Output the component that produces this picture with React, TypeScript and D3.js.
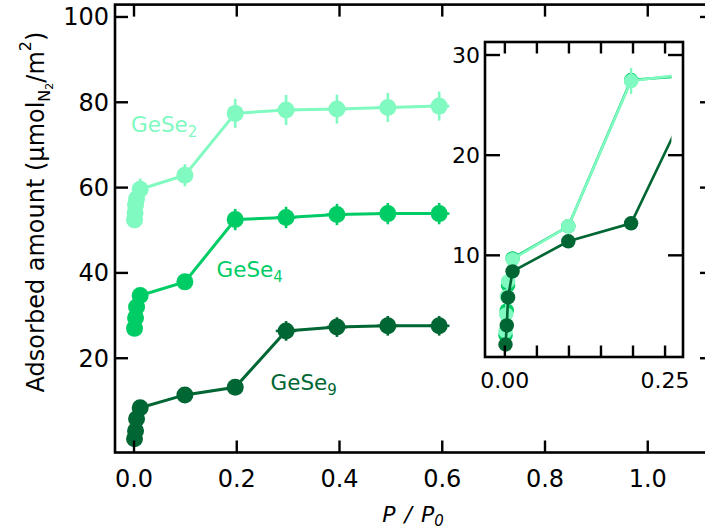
import React from 'react';
import * as d3 from 'd3';

// ---- data (raw adsorbed amounts; main panel adds a vertical offset per series) ----
const seriesNames = ['GeSe', 'GeSe', 'GeSe'];
const seriesSubs = ['2', '4', '9'];
const colors = ['#80FAC0', '#00CC66', '#006633'];
const offsets = [50, 25, 0];

const xGeSe2 = [0.001, 0.002, 0.003, 0.005, 0.012, 0.099, 0.197, 0.296, 0.395, 0.494, 0.594];
const yGeSe2 = [2.4, 4.1, 5.9, 7.4, 9.6, 12.9, 27.4, 28.2, 28.4, 28.8, 29.1];
const eGeSe2 = [0.8, 0.8, 0.8, 0.8, 2.5, 2.6, 3.4, 3.5, 3.4, 3.4, 3.4];

const xGeSe4 = [0.001, 0.003, 0.005, 0.012, 0.099, 0.197, 0.296, 0.395, 0.494, 0.594];
const yGeSe4 = [2.0, 4.5, 7.0, 9.7, 12.9, 27.5, 28.0, 28.7, 28.9, 28.9];
const eGeSe4 = [0.5, 0.5, 0.5, 0.8, 1.5, 2.5, 2.5, 2.5, 2.5, 2.5];

const xGeSe9 = [0.001, 0.003, 0.005, 0.012, 0.099, 0.197, 0.296, 0.395, 0.494, 0.594];
const yGeSe9 = [1.1, 3.0, 5.8, 8.4, 11.4, 13.2, 26.4, 27.3, 27.6, 27.6];
const eGeSe9 = [0.5, 0.5, 0.5, 0.5, 1.0, 1.2, 2.3, 2.3, 2.3, 2.3];

const insetErrGeSe2 = [0.3, 0.3, 0.3, 0.3, 0.4, 0.4, 1.3, 0.5, 0.5, 0.5, 0.5];

const xErr = 0.02; // horizontal error on the plateau points

const mainXTicks = [0, 0.2, 0.4, 0.6, 0.8, 1.0];
const mainYTicks = [20, 40, 60, 80, 100];
const insetXTicks = [0, 0.05, 0.1, 0.15, 0.2, 0.25];
const insetXLabels = ['0.00', '', '', '', '', '0.25'];
const insetYTicks = [10, 20, 30];

const series = [
  { x: xGeSe2, y: yGeSe2, e: eGeSe2 },
  { x: xGeSe4, y: yGeSe4, e: eGeSe4 },
  { x: xGeSe9, y: yGeSe9, e: eGeSe9 },
];

const W = 705;
const H = 531;
const FONT = 'DejaVu Sans, sans-serif';

export default function App() {
  // main panel scales
  const x = d3.scaleLinear().domain([-0.037, 1.127]).range([115, 713]);
  const y = d3.scaleLinear().domain([-2.1, 102.9]).range([452.5, 4.6]);
  // inset scales
  const xi = d3.scaleLinear().domain([-0.031, 0.278]).range([485, 683]);
  const yi = d3.scaleLinear().domain([-0.15, 31.3]).range([357, 42]);

  const [mx0, mx1] = x.range();
  const [my0, my1] = y.range();
  const [ix0, ix1] = xi.range();
  const [iy0, iy1] = yi.range();

  const mainLine = (s: typeof series[0], off: number) =>
    d3.line<number>().x((_, i) => x(s.x[i])).y((v) => y(v + off))(s.y) || '';
  const insetLine = (s: typeof series[0]) =>
    d3.line<number>().x((_, i) => xi(s.x[i])).y((v) => yi(v))(s.y) || '';

  const labelPos = [
    { x: 131, y: 132 },
    { x: 216.5, y: 277 },
    { x: 270.5, y: 389.5 },
  ];

  const insetOrder = [1, 0, 2];

  return (
    <svg width={W} height={H} style={{ position: 'absolute', left: 0, top: 0, background: '#fff' }}
      fontFamily={FONT}>
      <defs>
        <clipPath id="insetClip">
          <rect x={ix0} y={iy1} width={xi(0.26) - ix0} height={iy0 - iy1} />
        </clipPath>
      </defs>

      {/* main data */}
      {series.map((s, si) => {
        const off = offsets[si];
        const c = colors[si];
        return (
          <g key={'m' + si}>
            <path d={mainLine(s, off)} fill="none" stroke={c} strokeWidth={3} />
            {s.x.map((xv, i) => (
              <g key={i}>
                <line x1={x(xv)} x2={x(xv)} y1={y(s.y[i] + off - s.e[i])} y2={y(s.y[i] + off + s.e[i])}
                  stroke={c} strokeWidth={2.6} />
                {xv > 0.25 && (
                  <line x1={x(xv - xErr)} x2={x(xv + xErr)} y1={y(s.y[i] + off)} y2={y(s.y[i] + off)}
                    stroke={c} strokeWidth={2.6} />
                )}
                <circle cx={x(xv)} cy={y(s.y[i] + off)} r={8.5} fill={c} />
              </g>
            ))}
          </g>
        );
      })}

      {/* series labels */}
      {labelPos.map((p, si) => (
        <text key={'l' + si} x={p.x} y={p.y} fill={colors[si]} fontSize={21.5}>
          {seriesNames[si]}
          <tspan dy={5} fontSize={15}>{seriesSubs[si]}</tspan>
        </text>
      ))}

      {/* main frame */}
      <rect x={mx0} y={my1} width={mx1 - mx0} height={my0 - my1} fill="none" stroke="#000" strokeWidth={2.6} />
      {mainXTicks.map((t) => (
        <g key={'mx' + t}>
          <line x1={x(t)} x2={x(t)} y1={my0} y2={my0 - 12} stroke="#000" strokeWidth={2.4} />
          <line x1={x(t)} x2={x(t)} y1={my1} y2={my1 + 12} stroke="#000" strokeWidth={2.4} />
          <text x={x(t)} y={487} textAnchor="middle" fontSize={24}>{t.toFixed(1)}</text>
        </g>
      ))}
      {mainYTicks.map((t) => (
        <g key={'my' + t}>
          <line x1={mx0} x2={mx0 + 13} y1={y(t)} y2={y(t)} stroke="#000" strokeWidth={2.4} />
          <line x1={mx1} x2={mx1 - 13} y1={y(t)} y2={y(t)} stroke="#000" strokeWidth={2.4} />
          <text x={109} y={y(t) + 8.5} textAnchor="end" fontSize={24}>{t}</text>
        </g>
      ))}

      {/* axis titles */}
      <text x={413} y={522} textAnchor="middle" fontSize={22} fontStyle="italic" wordSpacing={2}>
        P / P<tspan dy={4} fontSize={15}>0</tspan>
      </text>
      <text transform="translate(44,212) rotate(-90)" textAnchor="middle" fontSize={24}>
        Adsorbed amount (µmol
        <tspan dy={6} fontSize={16}>N</tspan>
        <tspan dy={3} fontSize={11}>2</tspan>
        <tspan dy={-9} fontSize={24}>/m</tspan>
        <tspan dy={-13} fontSize={16}>2</tspan>
        <tspan dy={13} fontSize={24}>)</tspan>
      </text>

      {/* inset */}
      <rect x={ix0} y={iy1} width={ix1 - ix0} height={iy0 - iy1} fill="#fff" />
      <g clipPath="url(#insetClip)">
        {insetOrder.map((si) => {
          const s = series[si];
          const c = colors[si];
          return (
            <g key={'i' + si}>
              <path d={insetLine(s)} fill="none" stroke={c} strokeWidth={2.6} />
              {si === 0 && s.x.map((xv, i) => (
                <line key={'e' + i} x1={xi(xv)} x2={xi(xv)} y1={yi(s.y[i] - insetErrGeSe2[i])}
                  y2={yi(s.y[i] + insetErrGeSe2[i])} stroke={c} strokeWidth={2.4} />
              ))}
              {s.x.map((xv, i) => (
                <circle key={i} cx={xi(xv)} cy={yi(s.y[i])} r={7.2} fill={c} />
              ))}
            </g>
          );
        })}
      </g>
      <rect x={ix0} y={iy1} width={ix1 - ix0} height={iy0 - iy1} fill="none" stroke="#000" strokeWidth={2.6} />
      {insetXTicks.map((t, i) => (
        <g key={'ix' + t}>
          <line x1={xi(t)} x2={xi(t)} y1={iy0} y2={iy0 - 11.5} stroke="#000" strokeWidth={2.4} />
          <line x1={xi(t)} x2={xi(t)} y1={iy1} y2={iy1 + 11.5} stroke="#000" strokeWidth={2.4} />
          {insetXLabels[i] && (
            <text x={xi(t)} y={388} textAnchor="middle" fontSize={22}>{insetXLabels[i]}</text>
          )}
        </g>
      ))}
      {insetYTicks.map((t) => (
        <g key={'iy' + t}>
          <line x1={ix0} x2={ix0 + 15} y1={yi(t)} y2={yi(t)} stroke="#000" strokeWidth={2.4} />
          <line x1={ix1} x2={ix1 - 15} y1={yi(t)} y2={yi(t)} stroke="#000" strokeWidth={2.4} />
          <text x={480} y={yi(t) + 8} textAnchor="end" fontSize={22}>{t}</text>
        </g>
      ))}
    </svg>
  );
}
